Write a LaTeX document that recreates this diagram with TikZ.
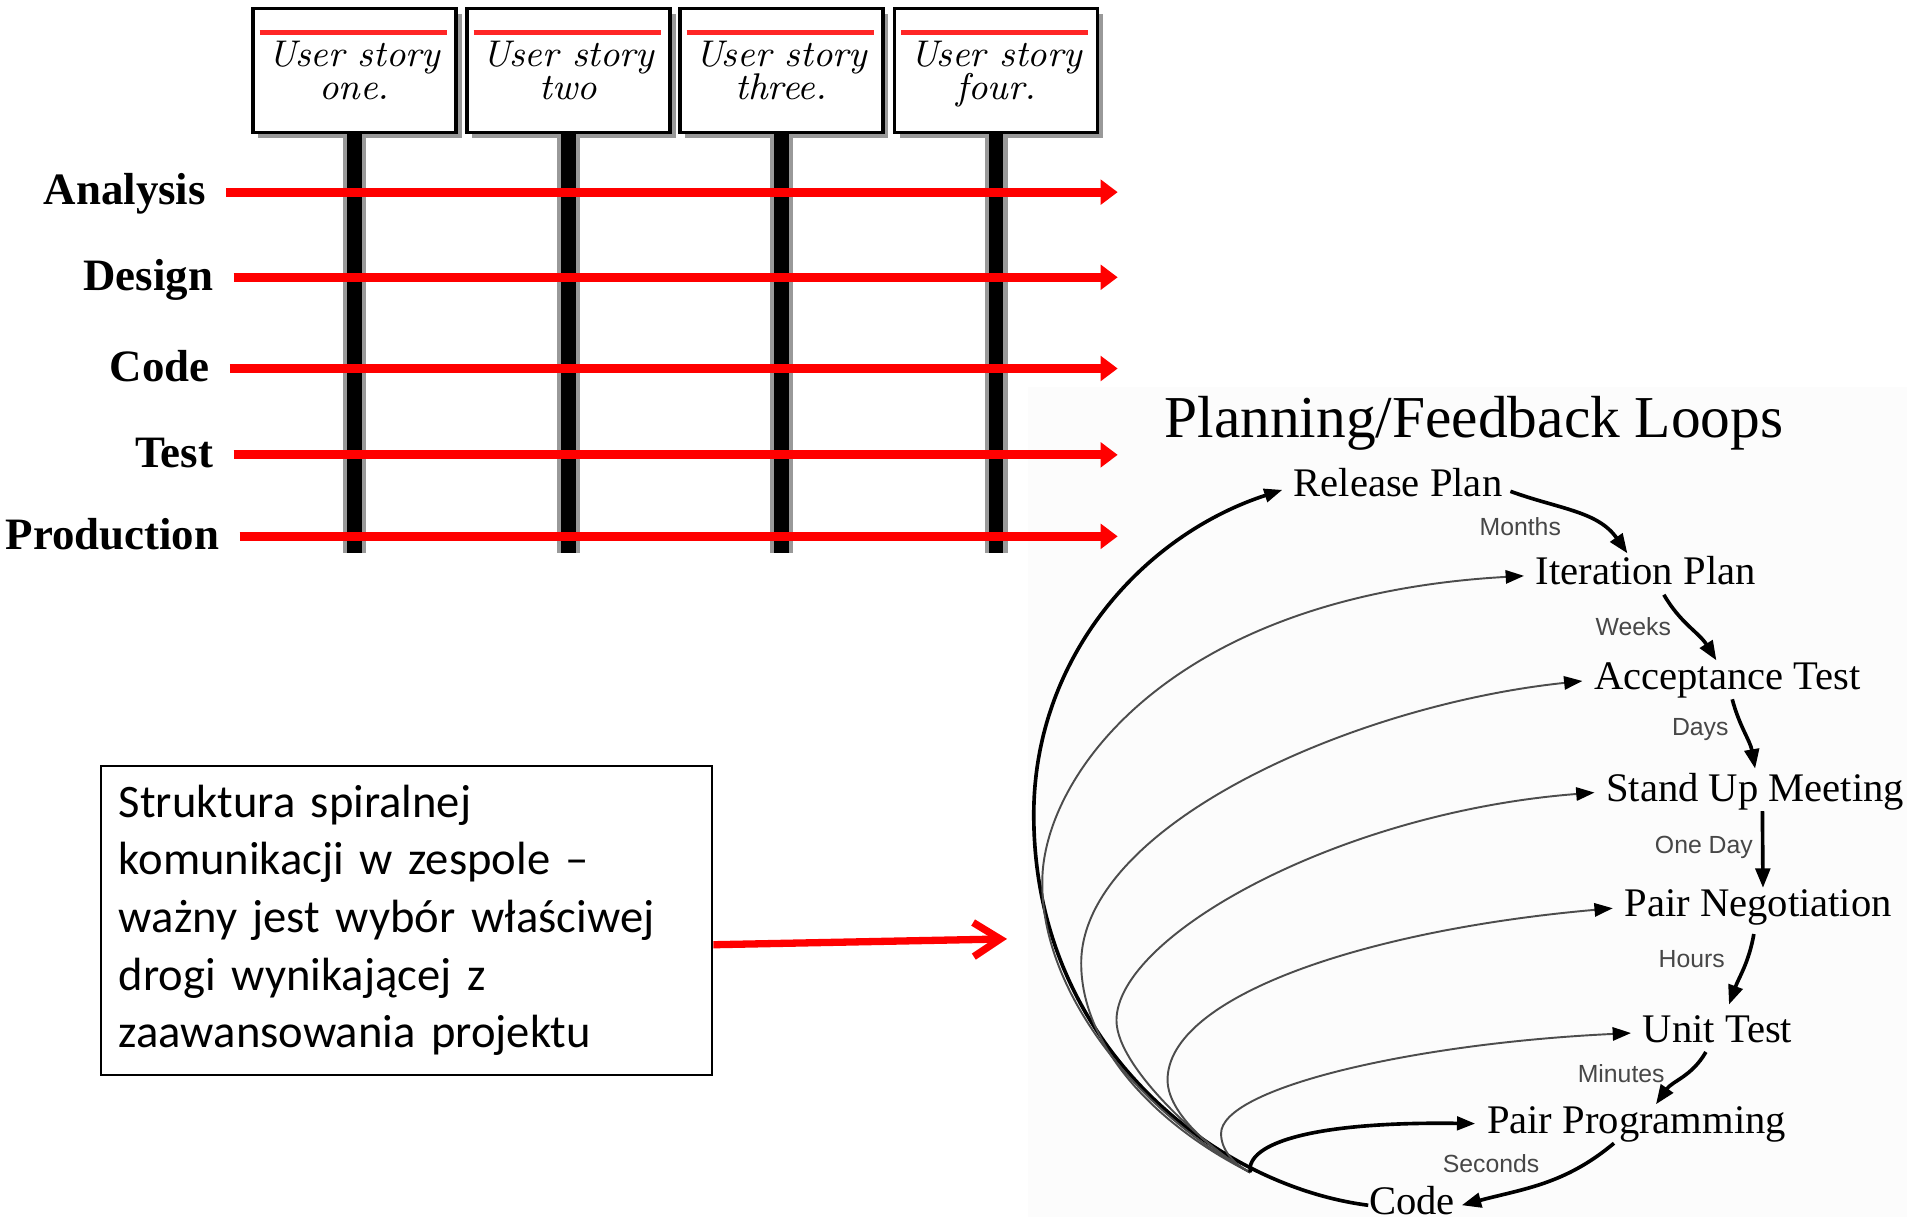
\documentclass[tikz,border=0pt]{standalone}
\usepackage{fontspec}
\usepackage{tikz}
\usetikzlibrary{arrows.meta, shadows, calc}

\newfontfamily\timesfont{Liberation Serif}
\newfontfamily\arialfont{Liberation Sans}
\newfontfamily\calibrifont{Carlito}
\newcommand\handfont{\itshape\fontsize{8.7}{7.8}\selectfont\lineskiplimit=-6pt\lineskip=0pt\relax}

\begin{document}
\begin{tikzpicture}[x=0.1mm, y=-0.1mm,
    storybox/.style={rectangle, draw=black, line width=0.85pt, fill=white, minimum width=16.7mm, minimum height=10.2mm, inner sep=0pt, align=center, font=\handfont, drop shadow={shadow xshift=0.45mm, shadow yshift=-0.45mm, fill=black!40, opacity=1}},
    storyline/.style={red!85, line width=0.4mm},
    postshade/.style={black!40, line width=1.9mm},
    storypost/.style={black, line width=1.2mm},
    phase/.style={anchor=east, inner sep=0pt, text height=8pt, text depth=2pt, font=\timesfont\bfseries\fontsize{10.5}{12}\selectfont},
    phaseflow/.style={-{Triangle[length=1.4mm, width=2mm]}, red, line width=0.75mm, shorten <=1.6mm},
    notebox/.style={rectangle, draw=black, line width=0.45pt, anchor=north west, minimum height=25.4mm, text width=47.3mm, inner xsep=1.5mm, align=left, font=\calibrifont\fontsize{10.9}{13.5}\selectfont},
    noteflow/.style={-{Straight Barb[length=2.2mm, width=2.8mm]}, red, line width=0.6mm},
    loopstep/.style={anchor=west, inner sep=0pt, text height=6.6pt, text depth=2.1pt, font=\timesfont\fontsize{9.5}{11}\selectfont},
    period/.style={inner sep=0pt, text=black!72, font=\arialfont\fontsize{5.8}{7}\selectfont},
    stepdown/.style={-{Triangle[length=1.6mm, width=1.2mm]}, line width=0.3mm},
    feedback/.style={-{Triangle[length=1.5mm, width=1.1mm, color=black]}, black!70, line width=0.45pt, shorten >=0.9mm},
    mainloop/.style={feedback, black, line width=0.85pt}
]
\useasboundingbox (0,0) rectangle (1568,1001);

% tlo petli
\fill[black!1] (845,318) rectangle (1568,1001);

% historyjki
\node[storybox] (s1) at (291.5,58) {User story\\one.};
\node[storybox] (s2) at (467.5,58) {User story\\two};
\node[storybox] (s3) at (642.5,58) {User story\\three.};
\node[storybox] (s4) at (819,58) {User story\\\raisebox{0pt}[\height][0pt]{four.}};

\coordinate (postbase) at (0,455);
\foreach \s in {s1,s2,s3,s4} {
    \draw[postshade] (\s.south) -- (\s.south |- postbase);
    \draw[storypost] (\s.south) -- (\s.south |- postbase);
    \draw[storyline] ($(\s.north west)+(7,21)$) -- ($(\s.north east)+(-9,21)$);
}

% fazy
\coordinate (chartend) at (919,0);
\node[phase] (analysis) at (170,158) {Analysis};
\node[phase] (design) at (176,228) {Design};
\node[phase] (coding) at (173,303) {Code};
\node[phase] (testing) at (176,374) {Test};
\node[phase] (production) at (181,441) {Production};

\foreach \p in {analysis,design,coding,testing,production}
    \draw[phaseflow] (\p.east) -- (\p.east -| chartend);

% opis
\node[notebox] (note) at (82,629) {Struktura spiralnej\\komunikacji w zespole –\\ważny jest wybór właściwej\\drogi wynikającej z\\zaawansowania projektu};
\coordinate (pointer) at (828,772);
\draw[noteflow] ([yshift=-2mm]note.east) -- (pointer);

% petle planowania
\node[font=\timesfont\fontsize{13.9}{16}\selectfont, inner sep=0pt] (title) at (1212,348) {Planning/Feedback Loops};

\node[loopstep] (release) at (1063,400) {Release Plan};
\node[loopstep] (iteration) at (1262,473) {Iteration Plan};
\node[loopstep] (acceptance) at (1310,559) {Acceptance Test};
\node[loopstep] (standup) at (1320,651) {Stand Up Meeting};
\node[loopstep] (pairneg) at (1335,746) {Pair Negotiation};
\node[loopstep] (unittest) at (1350,849) {Unit Test};
\node[loopstep] (pairprog) at (1222,924) {Pair Programming};
\node[loopstep] (codestep) at (1125,991) {Code};

\node[period] (months) at (1250,433) {Months};
\node[period] (weeks) at (1343,515) {Weeks};
\node[period] (days) at (1398,600) {Days};
\node[period] (oneday) at (1401,697) {One Day};
\node[period] (hours) at (1391,789) {Hours};
\node[period] (minutes) at (1333,883) {Minutes};
\node[period] (seconds) at (1226,957) {Seconds};

\draw[stepdown] ([xshift=0.6mm,yshift=-0.4mm]release.east) to[out=-20,in=125] ([xshift=-1.5mm,yshift=0.2mm]iteration.north);
\draw[stepdown] ([xshift=1.5mm]iteration.south) to[out=-60,in=122] ([xshift=-0.9mm]acceptance.north);
\draw[stepdown] ([xshift=0.4mm]acceptance.south) to[out=-75,in=100] ([yshift=0.3mm]standup.north);
\draw[stepdown] ([xshift=0.6mm]standup.south) -- ([xshift=0.4mm]pairneg.north);
\draw[stepdown] ([xshift=-0.35mm,yshift=-0.6mm]pairneg.south) to[out=-100,in=70] ([xshift=0.95mm,yshift=0.7mm]unittest.north);
\draw[stepdown] ([xshift=-0.95mm]unittest.south) to[out=-120,in=55] ([xshift=1.6mm]pairprog.north);
\draw[stepdown] ([xshift=-1.85mm]pairprog.south) to[out=-140,in=15] ([xshift=0.5mm]codestep.east);

% sprzezenia zwrotne
\coordinate (hub) at (1028,964);
\draw[mainloop] (codestep.west) .. controls (1000,975) and (850,860) .. (850,670) .. controls (850,540) and (940,440) .. (release.west);
\draw[feedback] (hub) .. controls (934,913) and (856,815) .. (857,725) .. controls (857,640) and (960,490) .. (iteration.west);
\draw[feedback] (hub) .. controls (950,925) and (889,860) .. (889,792) .. controls (889,680) and (1110,580) .. (acceptance.west);
\draw[feedback] (hub) .. controls (1000,950) and (918,880) .. (918,839) .. controls (918,770) and (1100,668) .. (standup.west);
\draw[feedback] (hub) .. controls (1010,955) and (960,920) .. (960,888) .. controls (960,820) and (1120,765) .. (pairneg.west);
\draw[feedback] (hub) .. controls (1018,959) and (1004,948) .. (1004,932) .. controls (1004,895) and (1160,858) .. (unittest.west);
\draw[mainloop] (hub) .. controls (1024,940) and (1080,922) .. (pairprog.west);

\end{tikzpicture}
\end{document}
